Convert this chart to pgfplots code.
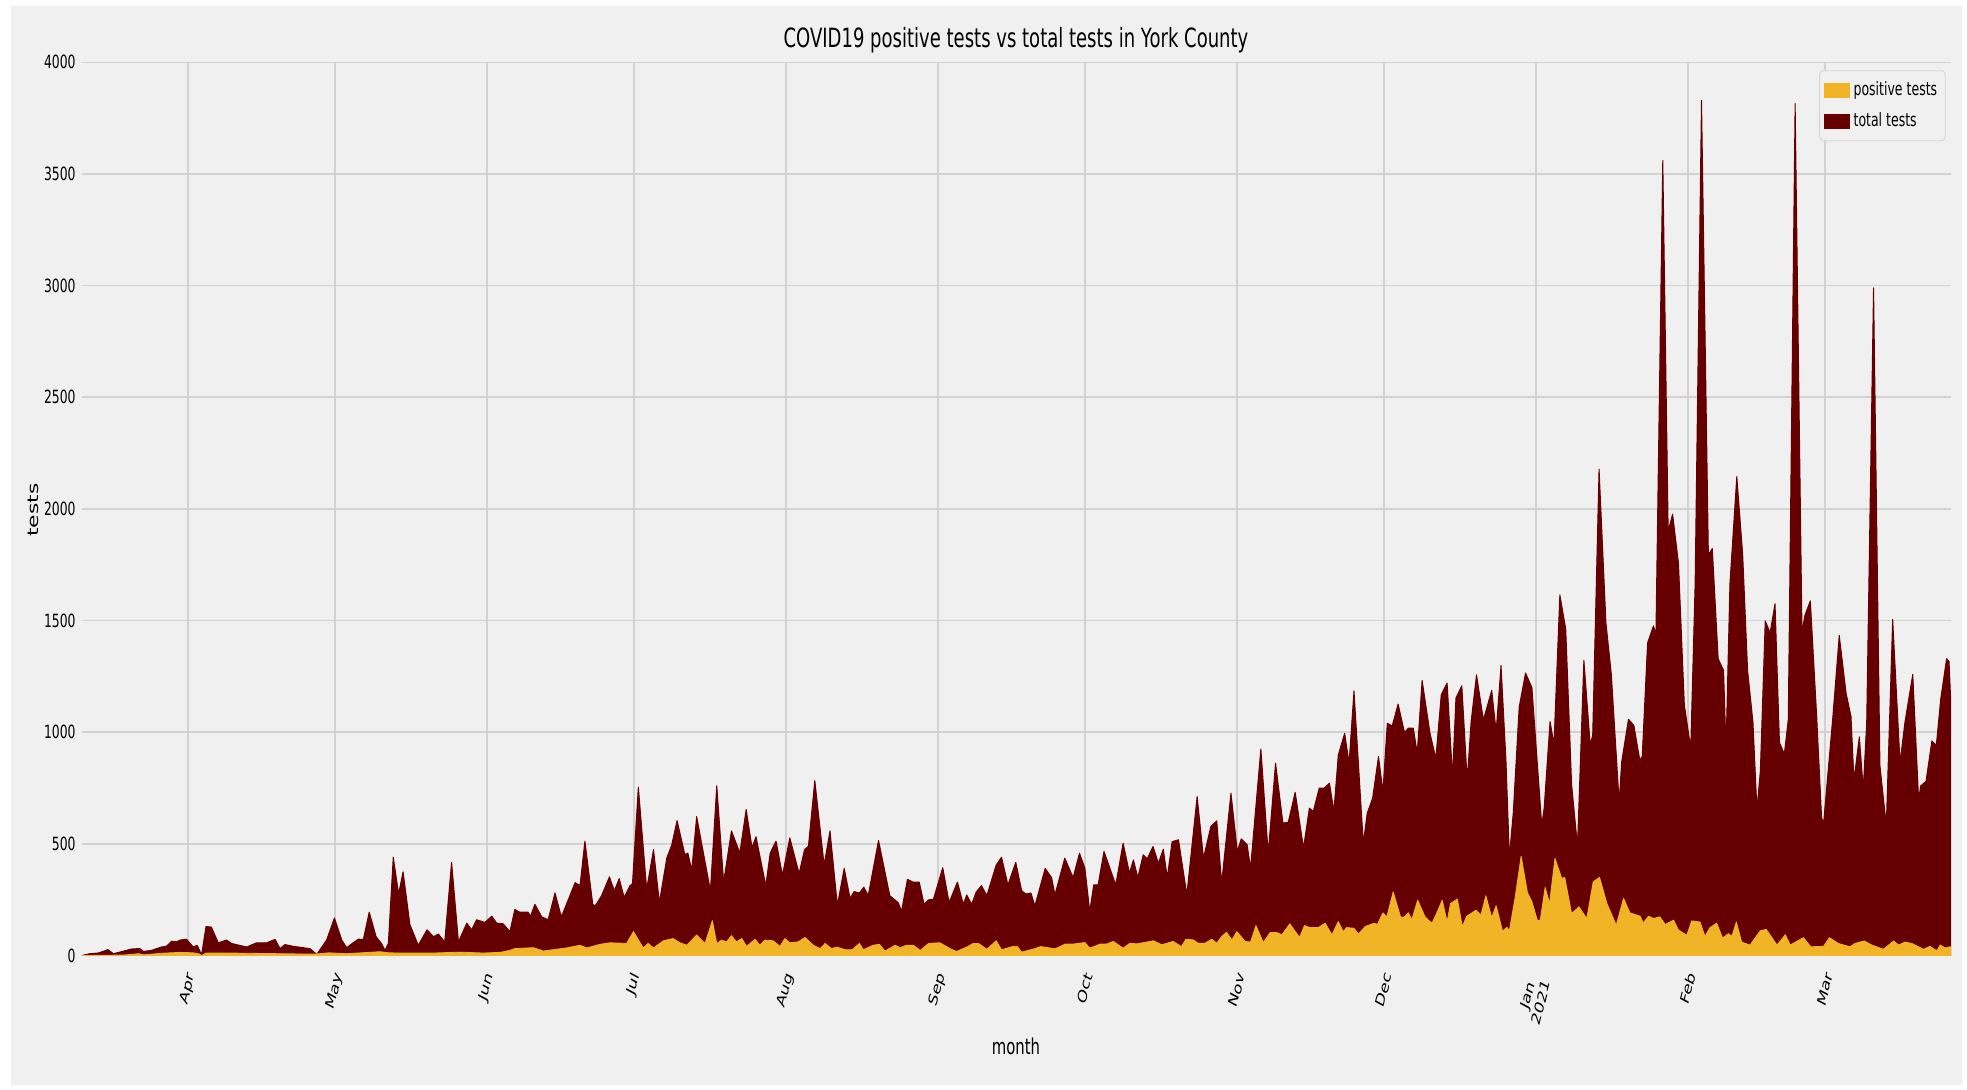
\documentclass[border=0pt]{standalone}
\usepackage{pgfplots}
\pgfplotsset{compat=1.18}
\usepackage{graphicx}
\usepackage{fontspec}
\setmainfont{DejaVu Sans}[FakeStretch=0.68]
\newfontfamily\plainfont{DejaVu Sans}

\definecolor{bg}{HTML}{F0F0F0}
\definecolor{gridc}{HTML}{D2D2D2}
\definecolor{legc}{HTML}{D4D4D4}
\definecolor{postc}{RGB}{240,180,38}
\definecolor{totc}{RGB}{102,0,0}

% rotated then squeezed tick label, as in the reference
\newcommand{\xtl}[1]{\scalebox{0.68}[1]{\rotatebox{70}{\fontsize{9.1}{10.5}\selectfont\plainfont #1}}}

\begin{document}
\begin{tikzpicture}
\fill[white] (0,0) rectangle (983.5pt,545pt);
\fill[bg] (5.5pt,2.5pt) rectangle (981pt,542.2pt);

\begin{axis}[
  at={(41pt,67.25pt)}, anchor=south west,
  width=934.5pt, height=446.6pt, scale only axis,
  xmin=9.4, xmax=390.7, ymin=0, ymax=4000,
  enlargelimits=false,
  axis line style={draw=none},
  tick style={draw=none},
  grid=major,
  major grid style={gridc, line width=0.75pt},
  ytick={0,500,...,4000},
  xtick={31,61,92,122,153,184,214,245,275,306,337,365},
  xticklabels={\xtl{Apr},\xtl{May},\xtl{Jun},\xtl{Jul},\xtl{Aug},\xtl{Sep},\xtl{Oct},\xtl{Nov},\xtl{Dec},{\xtl{\begin{tabular}{@{}c@{}}Jan\\2021\end{tabular}}},\xtl{Feb},\xtl{Mar}},
  /pgf/number format/assume math mode=true,
  /pgf/number format/1000 sep={},
  yticklabel style={font=\fontsize{9.1}{10.5}\selectfont, anchor=east, inner sep=0pt, xshift=-3pt},
  xticklabel style={anchor=north, inner sep=0pt, yshift=-7.5pt},
  legend style={at={(1,1)}, anchor=north east, xshift=-2.7pt, yshift=-4pt,
    draw=legc, fill=bg, rounded corners=2pt,
    font=\fontsize{9.2}{10.5}\selectfont,
    inner xsep=2pt, inner ysep=3.5pt, row sep=3pt},
  legend cell align=left,
  reverse legend,
  legend image code/.code={\fill[#1,draw=none,sharp corners] (0pt,-3.75pt) rectangle (13pt,3.75pt);},
]

\addplot[fill=totc, draw=totc, line width=0.5pt, line join=round] table {
9.4 0
11.0 8
12.7 11
14.7 26
15.8 8
17.1 15
19.5 29
21.2 31
21.9 18
23.6 23
25.6 38
26.6 41
27.7 64
28.7 61
29.4 69
30.7 73
32.1 38
32.9 46
33.8 3
34.7 130
35.8 127
37.2 57
38.9 69
39.9 54
43.0 38
45.0 57
47.1 57
48.8 72
49.8 31
50.8 49
52.5 41
55.9 31
57.3 5
59.3 69
60.9 168
62.4 69
63.4 35
64.7 57
65.8 73
66.8 72
68.0 194
69.4 84
70.5 54
71.2 23
71.9 54
72.9 440
74.0 276
74.9 375
76.3 138
78.0 46
79.8 115
81.1 84
82.1 96
83.4 61
84.8 417
86.2 61
87.9 145
88.9 115
89.9 160
91.6 148
93.0 176
94.0 145
95.3 142
96.7 107
97.7 206
98.7 194
100.4 194
100.9 176
101.8 229
103.2 173
104.5 160
105.9 280
107.2 173
110.0 326
111.0 313
112.0 512
113.6 229
114.1 222
115.4 268
117.0 352
118.0 290
119.0 344
120.0 260
121.2 313
121.7 321
122.9 754
124.6 298
126.0 474
127.2 237
128.7 436
129.7 494
130.8 604
132.4 451
133.0 459
133.8 382
134.8 622
137.6 290
138.9 760
140.3 329
141.9 558
143.6 459
144.9 654
146.1 482
146.9 532
148.9 313
149.8 459
151.0 512
152.3 359
153.8 527
155.7 367
156.8 474
157.6 489
158.9 783
160.8 405
162.0 558
163.5 225
164.9 390
166.1 255
166.9 286
168.0 280
168.9 306
169.8 268
171.9 515
174.2 268
175.9 237
176.6 199
177.8 341
178.9 329
180.2 329
181.2 229
182.1 249
183.1 252
185.0 393
186.3 237
188.0 329
189.2 229
189.9 271
190.9 229
191.8 283
192.9 313
194.0 268
195.9 405
197.0 440
198.3 316
199.9 417
201.1 290
202.0 275
203.0 280
203.8 222
205.9 390
207.2 349
207.9 272
209.9 436
211.6 349
212.9 458
214.0 391
215.0 197
215.8 316
216.7 316
217.9 466
219.1 391
220.3 316
221.8 503
223.1 369
223.9 428
224.8 349
225.9 451
226.7 433
227.9 488
229.0 413
230.0 476
230.8 349
231.8 510
233.1 518
234.8 272
236.9 712
238.2 436
239.7 578
240.9 603
241.9 324
243.8 727
245.1 466
245.9 522
247.1 496
247.8 391
249.9 925
251.4 458
252.9 861
254.4 593
255.5 597
256.9 731
258.6 481
259.8 660
260.6 645
261.8 749
262.8 749
263.9 772
264.8 645
265.7 898
267.0 995
267.9 861
268.9 1185
270.8 502
271.6 637
272.7 704
273.9 891
274.8 734
275.7 1040
276.7 1028
277.9 1126
279.2 999
280.0 1018
281.0 1018
281.8 906
282.8 1232
284.4 996
285.6 883
286.7 1167
287.9 1220
289.0 801
289.7 1153
290.9 1208
292.0 786
292.8 1048
293.9 1257
295.3 1055
297.0 1187
297.9 1003
298.9 1299
299.9 876
300.6 442
301.4 640
302.6 1112
303.9 1265
305.2 1200
307.2 585
307.7 660
308.9 1048
309.7 946
310.9 1615
312.1 1462
313.3 765
314.5 490
315.8 1322
317.1 942
317.6 987
318.9 2178
320.3 1490
321.4 1260
323.0 685
323.5 865
324.9 1058
326.0 1030
327.2 876
327.7 890
328.8 1400
330.0 1476
330.5 1438
331.9 3560
333.0 1899
333.9 1977
335.1 1757
336.3 1122
337.6 928
338.5 1666
339.8 3830
341.2 1796
342.0 1822
343.2 1329
344.3 1277
344.8 928
345.6 1666
347.0 2145
348.2 1796
349.2 1277
350.3 1044
351.1 656
351.8 824
352.8 1498
353.8 1446
354.8 1575
355.7 954
356.7 902
357.5 1057
358.9 3815
360.3 1446
360.9 1524
362.0 1588
363.3 1070
364.3 617
364.7 591
366.6 1070
367.9 1433
369.3 1174
370.3 1070
370.9 785
372.0 979
372.8 746
373.5 1044
374.9 2990
376.2 850
377.5 583
378.8 1505
380.3 863
381.3 1044
382.9 1259
384.1 694
384.5 759
385.6 780
386.8 961
387.7 941
388.6 1148
389.8 1329
390.3 1316
390.6 1161
} \closedcycle;
\addlegendentry{total tests}

\addplot[fill=postc, draw=postc, line width=0.4pt, line join=round] table {
9.4 0
18.0 2
19.5 5
21.0 8
22.0 3
25.6 10
29.4 14
32.1 12
33.2 8
33.8 0
34.7 11
39.4 11
49.8 8
56.5 6
57.9 8
59.7 12
63.4 8
70.2 17
72.0 12
74.3 11
81.1 11
86.5 15
91.3 11
94.7 14
96.7 23
97.7 31
101.5 35
103.5 20
105.5 26
108.3 34
111.0 46
112.4 34
115.1 50
117.1 57
120.5 54
121.9 107
123.9 34
124.9 54
126.0 34
128.0 66
130.0 76
131.4 57
132.8 46
134.8 92
136.5 54
138.0 156
138.9 54
139.9 69
140.9 61
141.9 89
142.9 61
144.0 76
145.0 41
146.7 73
147.7 46
148.7 69
150.4 66
151.8 41
152.8 76
153.8 57
155.5 61
156.9 81
158.6 46
160.0 31
161.0 54
162.3 31
163.4 38
165.1 26
166.5 26
168.0 54
168.8 26
170.8 46
172.1 50
173.2 20
175.3 46
176.3 35
177.6 46
179.0 46
180.4 23
182.1 54
184.4 57
186.5 31
187.8 18
189.9 38
191.2 54
192.3 54
194.0 28
195.9 66
197.0 26
199.4 41
200.2 41
201.1 15
203.8 31
205.0 40
207.9 30
210.0 51
211.6 51
214.0 58
215.0 33
217.1 51
218.4 51
219.8 63
221.8 33
223.2 55
224.6 52
228.0 66
229.7 48
232.0 63
233.7 40
234.6 73
236.1 70
237.1 55
238.5 55
239.9 73
240.9 55
241.9 85
242.9 104
244.0 70
245.0 107
246.7 63
247.8 60
248.9 134
250.4 58
251.8 103
253.1 103
254.2 93
255.8 142
257.8 81
258.8 134
259.9 125
261.6 125
263.0 145
264.4 93
265.7 152
266.7 107
267.4 125
268.9 122
269.8 96
271.2 130
272.9 144
273.7 140
274.8 191
275.6 173
276.9 285
278.4 173
279.0 170
280.0 191
280.7 161
281.9 248
283.4 173
284.8 144
285.8 191
286.9 248
287.9 151
288.6 233
290.0 253
291.0 129
291.9 176
293.8 203
294.8 181
295.8 268
297.0 170
297.9 223
299.2 109
300.1 126
300.6 111
301.8 263
303.0 445
304.3 281
305.2 241
306.3 158
306.9 158
307.9 305
308.8 233
309.9 435
311.3 345
311.9 350
313.3 188
314.8 218
316.4 166
317.7 330
319.0 350
320.5 233
322.4 136
323.9 256
325.2 191
327.3 176
327.9 146
329.0 176
330.0 166
331.3 173
332.4 139
334.1 158
335.1 114
336.8 91
337.8 155
339.5 150
340.5 86
341.5 124
342.9 145
344.1 78
345.3 98
346.0 86
346.9 150
348.0 60
349.7 47
351.8 111
353.0 117
355.2 47
356.9 93
357.9 47
360.6 80
362.1 39
364.7 41
365.9 80
367.7 54
370.1 39
371.1 54
373.0 65
374.5 47
376.9 28
379.0 65
380.0 47
381.3 60
382.7 54
385.1 28
386.4 41
387.8 21
388.5 47
389.5 34
390.6 39
} \closedcycle;
\addlegendentry{positive tests}
\end{axis}

\node[font=\fontsize{13.25}{15}\selectfont] at (508pt,525pt) {COVID19 positive tests vs total tests in York County};
\node[font=\fontsize{10.9}{12}\selectfont] at (508pt,22pt) {month};
\node at (16.5pt,290pt) {\scalebox{0.68}[1]{\rotatebox{90}{\fontsize{10.9}{12}\selectfont\plainfont tests}}};
\end{tikzpicture}
\end{document}
